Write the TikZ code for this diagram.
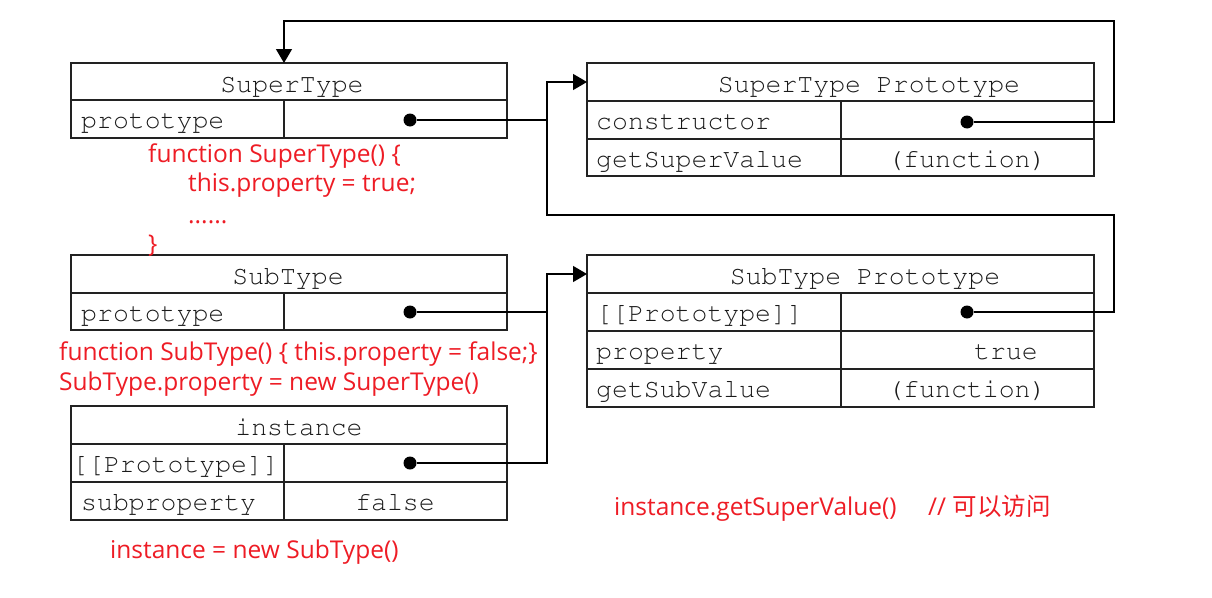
\documentclass[tikz,border=0pt]{standalone}
\usepackage[T1,TU]{fontenc}
\usepackage{fontspec}
\setmainfont{Open Sans}
\newfontfamily\cjkfont{Noto Sans CJK SC}
\usetikzlibrary{arrows.meta,calc}
\newcommand\courfont{\fontencoding{T1}\fontfamily{pcr}\selectfont}
\definecolor{boxc}{HTML}{222222}
\definecolor{txtc}{HTML}{1A1A1A}
\definecolor{redc}{HTML}{EE1C25}
\begin{document}
\begin{tikzpicture}[x=1pt,y=-1pt,
  cellbox/.style={draw=boxc, line width=1.6pt, inner sep=0pt, outer sep=0pt, anchor=north west},
  mono/.style={font=\courfont\fontsize{26.5}{30}\selectfont, inner sep=0pt, text=txtc},
  hdr/.style={mono, anchor=base},
  keyt/.style={mono, anchor=base west},
  valt/.style={mono, anchor=base},
  dot/.style={circle, fill=black, inner sep=0pt, minimum size=13pt},
  conn/.style={draw=black, line width=1.4pt},
  tip/.style={-{Triangle[length=14pt,width=16pt]}},
  redtxt/.style={text=redc, font=\fontsize{24.5}{28}\selectfont, inner sep=0pt, anchor=base west}]
\useasboundingbox (0,0) rectangle (1212,597);
\fill[white] (0,0) rectangle (1212,597);

% SuperType
\node[cellbox, minimum width=436pt, minimum height=37pt] (stH) at (71,63) {};
\node[cellbox, minimum width=213pt, minimum height=38pt] (stK) at (71,100) {};
\node[cellbox, minimum width=223pt, minimum height=38pt] (stV) at (284,100) {};
\node[hdr] (tstH) at (292,92) {SuperType};
\node[keyt] (tstK) at (81,128) {prototype};
\node[dot] (dSt) at (410,120) {};

% SuperType Prototype
\node[cellbox, minimum width=507pt, minimum height=38pt] (spH) at (587,63) {};
\node[cellbox, minimum width=254pt, minimum height=38pt] (spK1) at (587,101) {};
\node[cellbox, minimum width=253pt, minimum height=38pt] (spV1) at (841,101) {};
\node[cellbox, minimum width=254pt, minimum height=37pt] (spK2) at (587,139) {};
\node[cellbox, minimum width=253pt, minimum height=37pt] (spV2) at (841,139) {};
\node[hdr] (tspH) at (869,92) {SuperType Prototype};
\node[keyt] (tspK1) at (596,129) {constructor};
\node[keyt] (tspK2) at (596,167) {getSuperValue};
\node[valt] (tspV2) at (967,167) {(function)};
\node[dot] (dCon) at (967,122) {};

% SubType
\node[cellbox, minimum width=436pt, minimum height=38pt] (sbH) at (71,255) {};
\node[cellbox, minimum width=213pt, minimum height=37pt] (sbK) at (71,293) {};
\node[cellbox, minimum width=223pt, minimum height=37pt] (sbV) at (284,293) {};
\node[hdr] (tsbH) at (288,284) {SubType};
\node[keyt] (tsbK) at (81,321) {prototype};
\node[dot] (dSb) at (410,312) {};

% SubType Prototype
\node[cellbox, minimum width=507pt, minimum height=38pt] (sbpH) at (587,255) {};
\node[cellbox, minimum width=254pt, minimum height=38pt] (sbpK1) at (587,293) {};
\node[cellbox, minimum width=253pt, minimum height=38pt] (sbpV1) at (841,293) {};
\node[cellbox, minimum width=254pt, minimum height=38pt] (sbpK2) at (587,331) {};
\node[cellbox, minimum width=253pt, minimum height=38pt] (sbpV2) at (841,331) {};
\node[cellbox, minimum width=254pt, minimum height=38pt] (sbpK3) at (587,369) {};
\node[cellbox, minimum width=253pt, minimum height=38pt] (sbpV3) at (841,369) {};
\node[hdr] (tsbpH) at (865,284) {SubType Prototype};
\node[keyt] (tsbpK1) at (596,321) {[[Prototype]]};
\node[keyt] (tsbpK2) at (596,359) {property};
\node[valt] (tsbpV2) at (1006,359) {true};
\node[keyt] (tsbpK3) at (596,397) {getSubValue};
\node[valt] (tsbpV3) at (967,397) {(function)};
\node[dot] (dSbp) at (967,312) {};

% instance
\node[cellbox, minimum width=436pt, minimum height=38pt] (inH) at (71,406) {};
\node[cellbox, minimum width=213pt, minimum height=38pt] (inK1) at (71,444) {};
\node[cellbox, minimum width=223pt, minimum height=38pt] (inV1) at (284,444) {};
\node[cellbox, minimum width=213pt, minimum height=38pt] (inK2) at (71,482) {};
\node[cellbox, minimum width=223pt, minimum height=38pt] (inV2) at (284,482) {};
\node[hdr] (tinH) at (299,435) {instance};
\node[keyt] (tinK1) at (72,472) {[[Prototype]]};
\node[keyt] (tinK2) at (81,510) {subproperty};
\node[valt] (tinV2) at (395,510) {false};
\node[dot] (dIn) at (410,463) {};

% junction coordinates
\coordinate (ja) at (547,82);
\coordinate (jb) at (547,215);
\coordinate (jc) at (1114,215);
\coordinate (je) at (1114,21);
\coordinate (jf) at (284,21);

% connectors
\draw[conn, tip] (dSbp) -| (jc) -- (jb) -- (ja) -- (spH.west);
\draw[conn] (dSt) -- (dSt -| ja);
\draw[conn, tip] (dCon) -| (je) -- (jf) -- (jf |- stH.north);
\draw[conn, tip] (dIn) -| (sbpH.west -| ja) -- (sbpH.west);
\draw[conn] (dSb) -- (dSb -| ja);

% red code
\node[redtxt] (c1) at (148,162) {function SuperType() \{};
\node[redtxt] (c2) at (188,191) {this.property = true;};
\node[redtxt] (c3) at (188,223) {......};
\node[redtxt] (c4) at (148,252) {\}};
\node[redtxt] (c5) at (59,360) {function SubType() \{ this.property = false;\}};
\node[redtxt] (c6) at (59,390) {SubType.property = new SuperType()};
\node[redtxt] (c7) at (110,558) {instance = new SubType()};
\node[redtxt] (c8) at (614,515) {instance.getSuperValue()};
\node[redtxt] (c9) at (928,515) {// {\cjkfont 可以访问}};
\end{tikzpicture}
\end{document}
